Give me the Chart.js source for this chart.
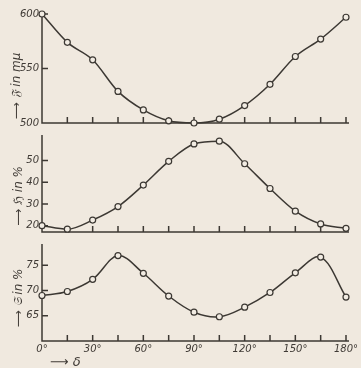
<!DOCTYPE html>
<html>
<head>
<meta charset="utf-8">
<script src="https://cdn.jsdelivr.net/npm/chart.js@4.4.1/dist/chart.umd.min.js"></script>
<style>
  body { margin: 0; background: #f0e9df; }
  #wrap { position: relative; width: 361px; height: 368px; overflow: hidden; }
  canvas { position: absolute; left: 0; top: 0; }
  .lab { position: absolute; font-family: "DejaVu Sans"; font-style: italic; color: #3f3a35; white-space: nowrap; }
  .rot { transform: translate(-50%, -50%) rotate(-90deg); }
</style>
</head>
<body>
<div id="wrap">
  <canvas id="c1" width="361" height="368"></canvas>
  <canvas id="c2" width="361" height="368"></canvas>
  <canvas id="c3" width="361" height="368"></canvas>
  <div class="lab rot" style="left:16px;top:86px;font-size:12px">⟶ 𝔉 in mμ</div>
  <div class="lab rot" style="left:18px;top:196px;font-size:12px">⟶ ℌ in %</div>
  <div class="lab rot" style="left:18px;top:298px;font-size:12px">⟶ 𝔖 in %</div>
  <div class="lab" style="left:50px;top:354px;font-size:13px">⟶ δ</div>
</div>
<script>
const winkel = [0, 15, 30, 45, 60, 75, 90, 105, 120, 135, 150, 165, 180];
const fWerte = [600, 574, 558, 529, 512, 502, 500, 503.5, 516, 535.5, 561, 577, 597];
const hWerte = [20, 18.4, 22.6, 28.8, 38.7, 49.6, 57.6, 58.9, 48.5, 37.1, 26.7, 20.8, 18.8];
const sWerte = [69, 69.8, 72.2, 76.9, 73.4, 68.9, 65.7, 64.8, 66.7, 69.6, 73.5, 76.6, 68.7];

const fTicks = [500, 550, 600];
const hTicks = [20, 30, 40, 50];
const sTicks = [65, 70, 75];
const xTicks = [0, 30, 60, 90, 120, 150, 180];

const linie = "#3c3833";
const papier = "#f2ece3";

// Rahmen mit nach innen zeigenden Strichen
const rahmen = {
  id: "rahmen",
  beforeDatasetsDraw(chart) {
    const { ctx, chartArea: a, scales: { x, y } } = chart;
    ctx.save();
    ctx.strokeStyle = linie;
    ctx.lineWidth = 1.5;
    ctx.beginPath();
    ctx.moveTo(a.left, a.top - 2);
    ctx.lineTo(a.left, a.bottom);
    ctx.lineTo(a.right + 3, a.bottom);
    winkel.forEach(w => {
      if (w === 0) return;
      const px = x.getPixelForValue(w);
      ctx.moveTo(px, a.bottom);
      ctx.lineTo(px, a.bottom - 6);
    });
    y.ticks.forEach(t => {
      const py = y.getPixelForValue(t.value);
      ctx.moveTo(a.left, py);
      ctx.lineTo(a.left + 6, py);
    });
    ctx.stroke();
    ctx.restore();
  }
};

function panel(id, werte, min, max, ticks, oben, unten, mitX, glatt) {
  return new Chart(document.getElementById(id), {
    type: "line",
    data: {
      datasets: [{
        data: winkel.map((w, i) => ({ x: w, y: werte[i] })),
        borderColor: linie,
        borderWidth: 1.5,
        tension: 0.35,
        cubicInterpolationMode: glatt ? "monotone" : "default",
        pointRadius: 3,
        pointBorderWidth: 1.2,
        pointBackgroundColor: papier,
        pointBorderColor: linie,
        clip: false
      }]
    },
    options: {
      responsive: false,
      animation: false,
      layout: { padding: { top: oben, bottom: unten, left: 0, right: 15 } },
      plugins: { legend: { display: false }, tooltip: { enabled: false } },
      scales: {
        x: {
          type: "linear", min: 0, max: 180,
          display: mitX,
          grid: { display: false, drawTicks: false },
          border: { display: false },
          afterBuildTicks: s => { s.ticks = xTicks.map(v => ({ value: v })); },
          afterFit: s => { s.height = 14; },
          ticks: {
            padding: 2,
            color: "#3f3a35",
            font: { family: "DejaVu Sans", style: "italic", size: 10 },
            callback: v => v + "°"
          }
        },
        y: {
          min: min, max: max,
          grid: { display: false, drawTicks: false },
          border: { display: false },
          afterBuildTicks: s => { s.ticks = ticks.map(v => ({ value: v })); },
          afterFit: s => { s.width = 42; },
          ticks: {
            padding: 3,
            color: "#3f3a35",
            font: { family: "DejaVu Sans", style: "italic", size: 10 }
          }
        }
      }
    },
    plugins: [rahmen]
  });
}

panel("c1", fWerte, 500, 600, fTicks, 14, 368 - 137, false, true);
panel("c2", hWerte, 17.1, 60.8, hTicks, 137, 368 - 246, false, true);
panel("c3", sWerte, 60, 78.8, sTicks, 246, 368 - 341 - 14, true, false);
</script>
</body>
</html>
